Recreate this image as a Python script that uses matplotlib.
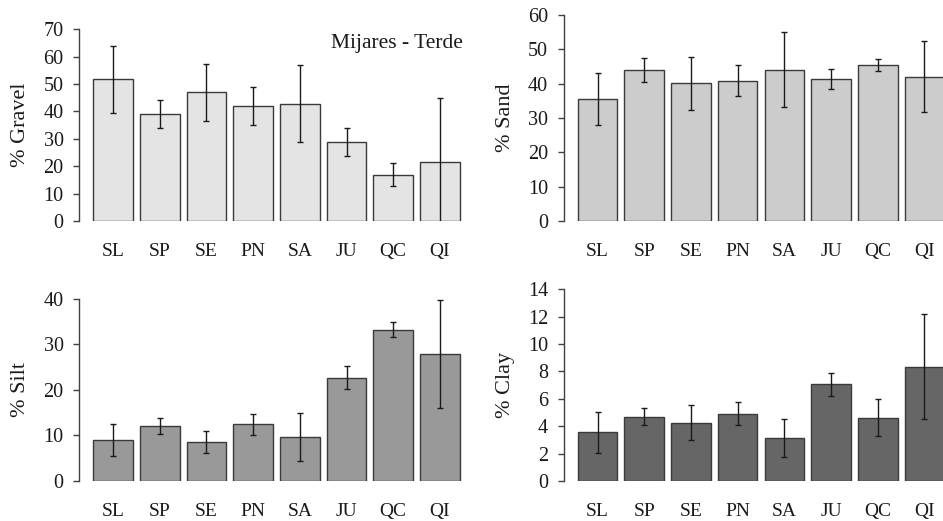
import matplotlib.pyplot as plt
import numpy as np

# sites along the river
sites = ["SL", "SP", "SE", "PN", "SA", "JU", "QC", "QI"]

# mean percentages and error (+/-)
gravel = [51.7, 39.1, 47.0, 42.0, 42.9, 28.9, 16.8, 21.5]
gravel_err = [12.1, 5.2, 10.5, 6.8, 14.2, 5.1, 4.2, 23.5]

sand = [35.6, 44.0, 40.1, 40.8, 44.1, 41.4, 45.4, 42.0]
sand_err = [7.6, 3.6, 7.7, 4.5, 10.9, 3.0, 1.8, 10.3]

silt = [9.0, 12.1, 8.6, 12.4, 9.7, 22.7, 33.2, 27.9]
silt_err = [3.6, 1.8, 2.4, 2.3, 5.3, 2.6, 1.7, 11.8]

clay = [3.55, 4.7, 4.26, 4.9, 3.14, 7.06, 4.63, 8.35]
clay_err = [1.5, 0.63, 1.27, 0.84, 1.37, 0.85, 1.37, 3.85]

plt.rcParams['font.family'] = ['Liberation Serif', 'DejaVu Serif']

W, H = 943, 521
fig = plt.figure(figsize=(W / 100, H / 100), dpi=100)


def px_axes(left, top_y, zero_y, width=395):
    """axes from pixel coords (top-down)"""
    return fig.add_axes([left / W, (H - zero_y) / H, width / W, (zero_y - top_y) / H])


def bar_panel(ax, values, errors, color, ylabel, ymax, ystep):
    x = np.arange(len(sites))
    ax.bar(x, values, width=0.85, color=color, edgecolor='#3a3a3a', linewidth=1.0, zorder=2)
    ax.errorbar(x, values, yerr=errors, fmt='none', ecolor='#1a1a1a',
                elinewidth=1.0, capsize=2.2, capthick=1.0, zorder=3)
    ax.set_xlim(-0.73, 7.73)
    ax.set_ylim(0, ymax)
    ax.set_yticks(np.arange(0, ymax + 0.01, ystep))
    ax.set_xticks(x)
    ax.set_xticklabels(sites)
    for side in ['top', 'right', 'bottom']:
        ax.spines[side].set_visible(False)
    ax.spines['left'].set_color('#404040')
    ax.spines['left'].set_linewidth(1.0)
    ax.tick_params(axis='x', length=0, pad=16, labelsize=14, colors='#1a1a1a')
    ax.tick_params(axis='y', length=4, width=1.0, color='#404040', pad=7,
                   labelsize=14.5, labelcolor='#1a1a1a')
    ax.set_ylabel(ylabel, fontsize=16, color='#1a1a1a')
    ax.yaxis.set_label_coords(-0.124, 0.5)
    ax.patch.set_alpha(0)


ax1 = px_axes(79, 29.3, 221)
bar_panel(ax1, gravel, gravel_err, '#e4e4e4', '% Gravel', 70, 10)
ax1.text(0.972, 0.928, "Mijares - Terde", transform=ax1.transAxes,
         ha='right', va='center', fontsize=15.5, color='#1a1a1a')

ax2 = px_axes(563.5, 15, 221)
bar_panel(ax2, sand, sand_err, '#cccccc', '% Sand', 60, 10)

ax3 = px_axes(79, 298.7, 481)
bar_panel(ax3, silt, silt_err, '#999999', '% Silt', 40, 10)

ax4 = px_axes(563.5, 289.3, 481)
bar_panel(ax4, clay, clay_err, '#666666', '% Clay', 14, 2)

fig.savefig("out.png", dpi=100)
